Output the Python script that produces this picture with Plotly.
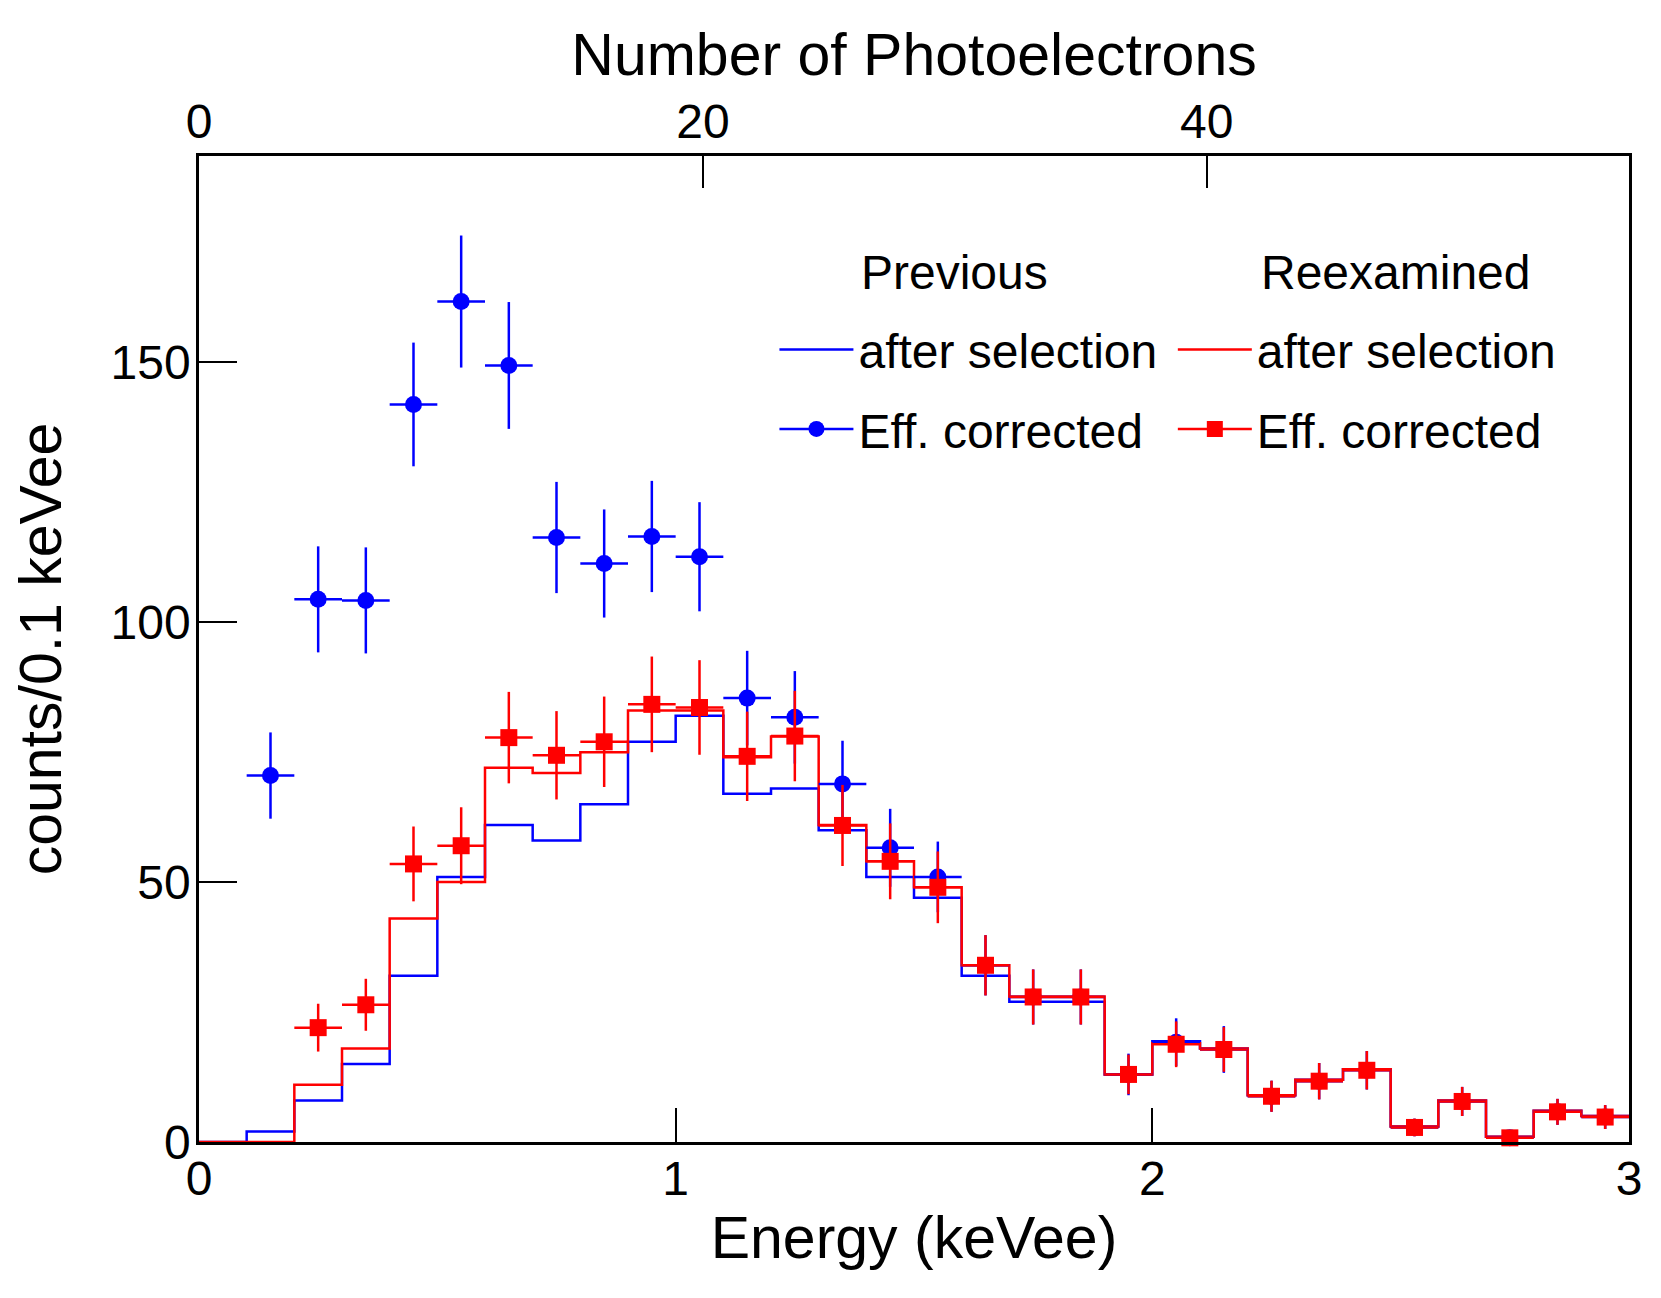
"""Energy spectrum: previous vs reexamined selection, with efficiency-corrected points."""
import numpy as np
import plotly.graph_objects as go

# 0.1 keVee bins from 0 to 3 keVee
bin_edges = np.round(np.arange(0.0, 3.0001, 0.1), 2)
bin_centers = np.round(bin_edges[:-1] + 0.05, 3)

# histograms after selection (counts / 0.1 keVee), one value per bin
prev_selected = [0, 2, 8, 15, 32, 51, 61, 58, 65, 77, 82, 67, 68, 60, 51,
                 47, 32, 27, 27, 13, 19.4, 18, 9, 12, 14, 3, 8, 1, 6, 5]
reex_selected = [0, 0, 11, 18, 43, 50, 72, 71, 75, 83, 83, 74, 78, 61, 54,
                 49, 34, 28, 28, 13, 19, 18, 9, 12, 14, 3, 8, 1, 6, 5]

# efficiency corrected points (previous starts at bin 2, reexamined at bin 3)
prev_corrected = [70.5, 104.4, 104.2, 141.9, 161.7, 149.4, 116.3, 111.3, 116.5,
                  112.6, 85.4, 81.7, 68.9, 56.6, 51.0, 34.0, 27.9, 27.9, 13.0,
                  19.2, 17.8, 8.8, 11.7, 13.8, 2.8, 7.8, 0.8, 5.8, 4.8]
prev_corrected_err = [8.3, 10.2, 10.2, 11.9, 12.7, 12.2, 10.7, 10.4, 10.7,
                      10.5, 9.1, 8.9, 8.3, 7.5, 6.8, 5.8, 5.3, 5.3, 4.0,
                      4.6, 4.5, 3.0, 3.5, 3.7, 1.7, 2.8, 1.0, 2.5, 2.3]
reex_corrected = [22.0, 26.4, 53.5, 57.0, 77.8, 74.4, 77.0, 84.2, 83.6, 74.2,
                  78.1, 60.9, 54.0, 49.0, 34.0, 27.9, 27.9, 13.0, 18.8, 17.8,
                  8.8, 11.7, 13.8, 2.8, 7.8, 0.8, 5.8, 4.8]
reex_corrected_err = [4.6, 5.0, 7.2, 7.4, 8.8, 8.5, 8.7, 9.2, 9.1, 8.6,
                      8.7, 7.8, 7.3, 6.9, 5.8, 5.3, 5.3, 3.8, 4.4, 4.3,
                      3.0, 3.5, 3.7, 1.7, 2.8, 1.0, 2.5, 2.3]

PE_PER_KEVEE = 18.92
Y_MAX = 189.7
FONT = "Liberation Sans, Arial, sans-serif"
BLUE, RED = "#0000ff", "#ff0000"


def step(values):
    # histogram outline: repeat the last value so the final bin is closed
    return list(bin_edges), list(values) + [values[-1]]


def points(values, errors, color, symbol):
    xs = bin_centers[len(bin_centers) - len(values):]
    return go.Scatter(
        x=xs, y=values, mode="markers", showlegend=False, cliponaxis=False,
        marker=dict(color=color, size=17, symbol=symbol),
        error_y=dict(type="data", array=errors, color=color, thickness=2.5, width=0),
        error_x=dict(type="constant", value=0.05, color=color, thickness=2.5, width=0),
    )


fig = go.Figure()
for vals, color, leg in [(prev_selected, BLUE, "legend"), (reex_selected, RED, "legend2")]:
    x, y = step(vals)
    fig.add_trace(go.Scatter(
        x=x, y=y, mode="lines", line=dict(color=color, width=2.5, shape="hv"),
        name="after selection", legend=leg, legendgroup=leg + "a",
    ))
fig.add_trace(points(prev_corrected, prev_corrected_err, BLUE, "circle"))
fig.add_trace(points(reex_corrected, reex_corrected_err, RED, "square"))

# legend glyphs for the corrected points (marker crossed by a line)
for color, symbol, leg in [(BLUE, "circle", "legend"), (RED, "square", "legend2")]:
    fig.add_trace(go.Scatter(
        x=[None], y=[None], mode="lines+markers", name="Eff. corrected",
        line=dict(color=color, width=2.5), marker=dict(color=color, size=16, symbol=symbol),
        legend=leg, legendgroup=leg + "b",
    ))

# empty trace so the photoelectron axis on top gets drawn
fig.add_trace(go.Scatter(
    x=[0, 3 * PE_PER_KEVEE], y=[None, None], xaxis="x2", mode="lines",
    showlegend=False, hoverinfo="skip",
))

legend_style = dict(
    font=dict(family=FONT, size=48, color="black"), bgcolor="rgba(0,0,0,0)",
    itemwidth=74, tracegroupgap=14, traceorder="grouped",
    xanchor="left", yanchor="top", y=0.842,
)
axis_font = dict(family=FONT, size=48, color="black")
title_font = dict(family=FONT, size=59, color="black")
fig.update_layout(
    width=1645, height=1282,
    margin=dict(l=191, r=24, t=148, b=148),
    paper_bgcolor="white", plot_bgcolor="white",
    font=dict(family=FONT, color="black"),
    legend=dict(x=0.4024, **legend_style),
    legend2=dict(x=0.681, **legend_style),
    xaxis=dict(
        range=[0, 3], tickvals=[0, 1, 2, 3], ticks="inside", ticklen=34, tickwidth=2,
        tickcolor="black", showline=True, linecolor="black", linewidth=2.5, mirror=True,
        showgrid=False, zeroline=False, tickfont=axis_font, ticklabelstandoff=-7,
        title=dict(text="Energy (keVee)", font=title_font, standoff=13),
    ),
    xaxis2=dict(
        overlaying="x", side="top", range=[0, 3 * PE_PER_KEVEE], tickvals=[0, 20, 40],
        ticks="inside", ticklen=32, tickwidth=2, tickcolor="black", showgrid=False,
        zeroline=False, tickfont=axis_font, ticklabelstandoff=7,
        title=dict(text="Number of Photoelectrons", font=title_font, standoff=0),
    ),
    yaxis=dict(
        range=[0, Y_MAX], tickvals=[0, 50, 100, 150], ticks="inside", ticklen=38, tickwidth=2,
        tickcolor="black", showline=True, linecolor="black", linewidth=2.5, mirror=True,
        showgrid=False, zeroline=False, tickfont=axis_font, ticklabelstandoff=-4,
        title=dict(text="counts/0.1 keVee", font=title_font, standoff=38),
    ),
)
# column headers of the two-column legend
for xh, text in [(0.4615, "Previous"), (0.741, "Reexamined")]:
    fig.add_annotation(
        x=xh, y=0.882, xref="paper", yref="paper", xanchor="left", yanchor="middle",
        text=text, showarrow=False, font=dict(family=FONT, size=48, color="black"),
    )

fig.write_html("out.html")
